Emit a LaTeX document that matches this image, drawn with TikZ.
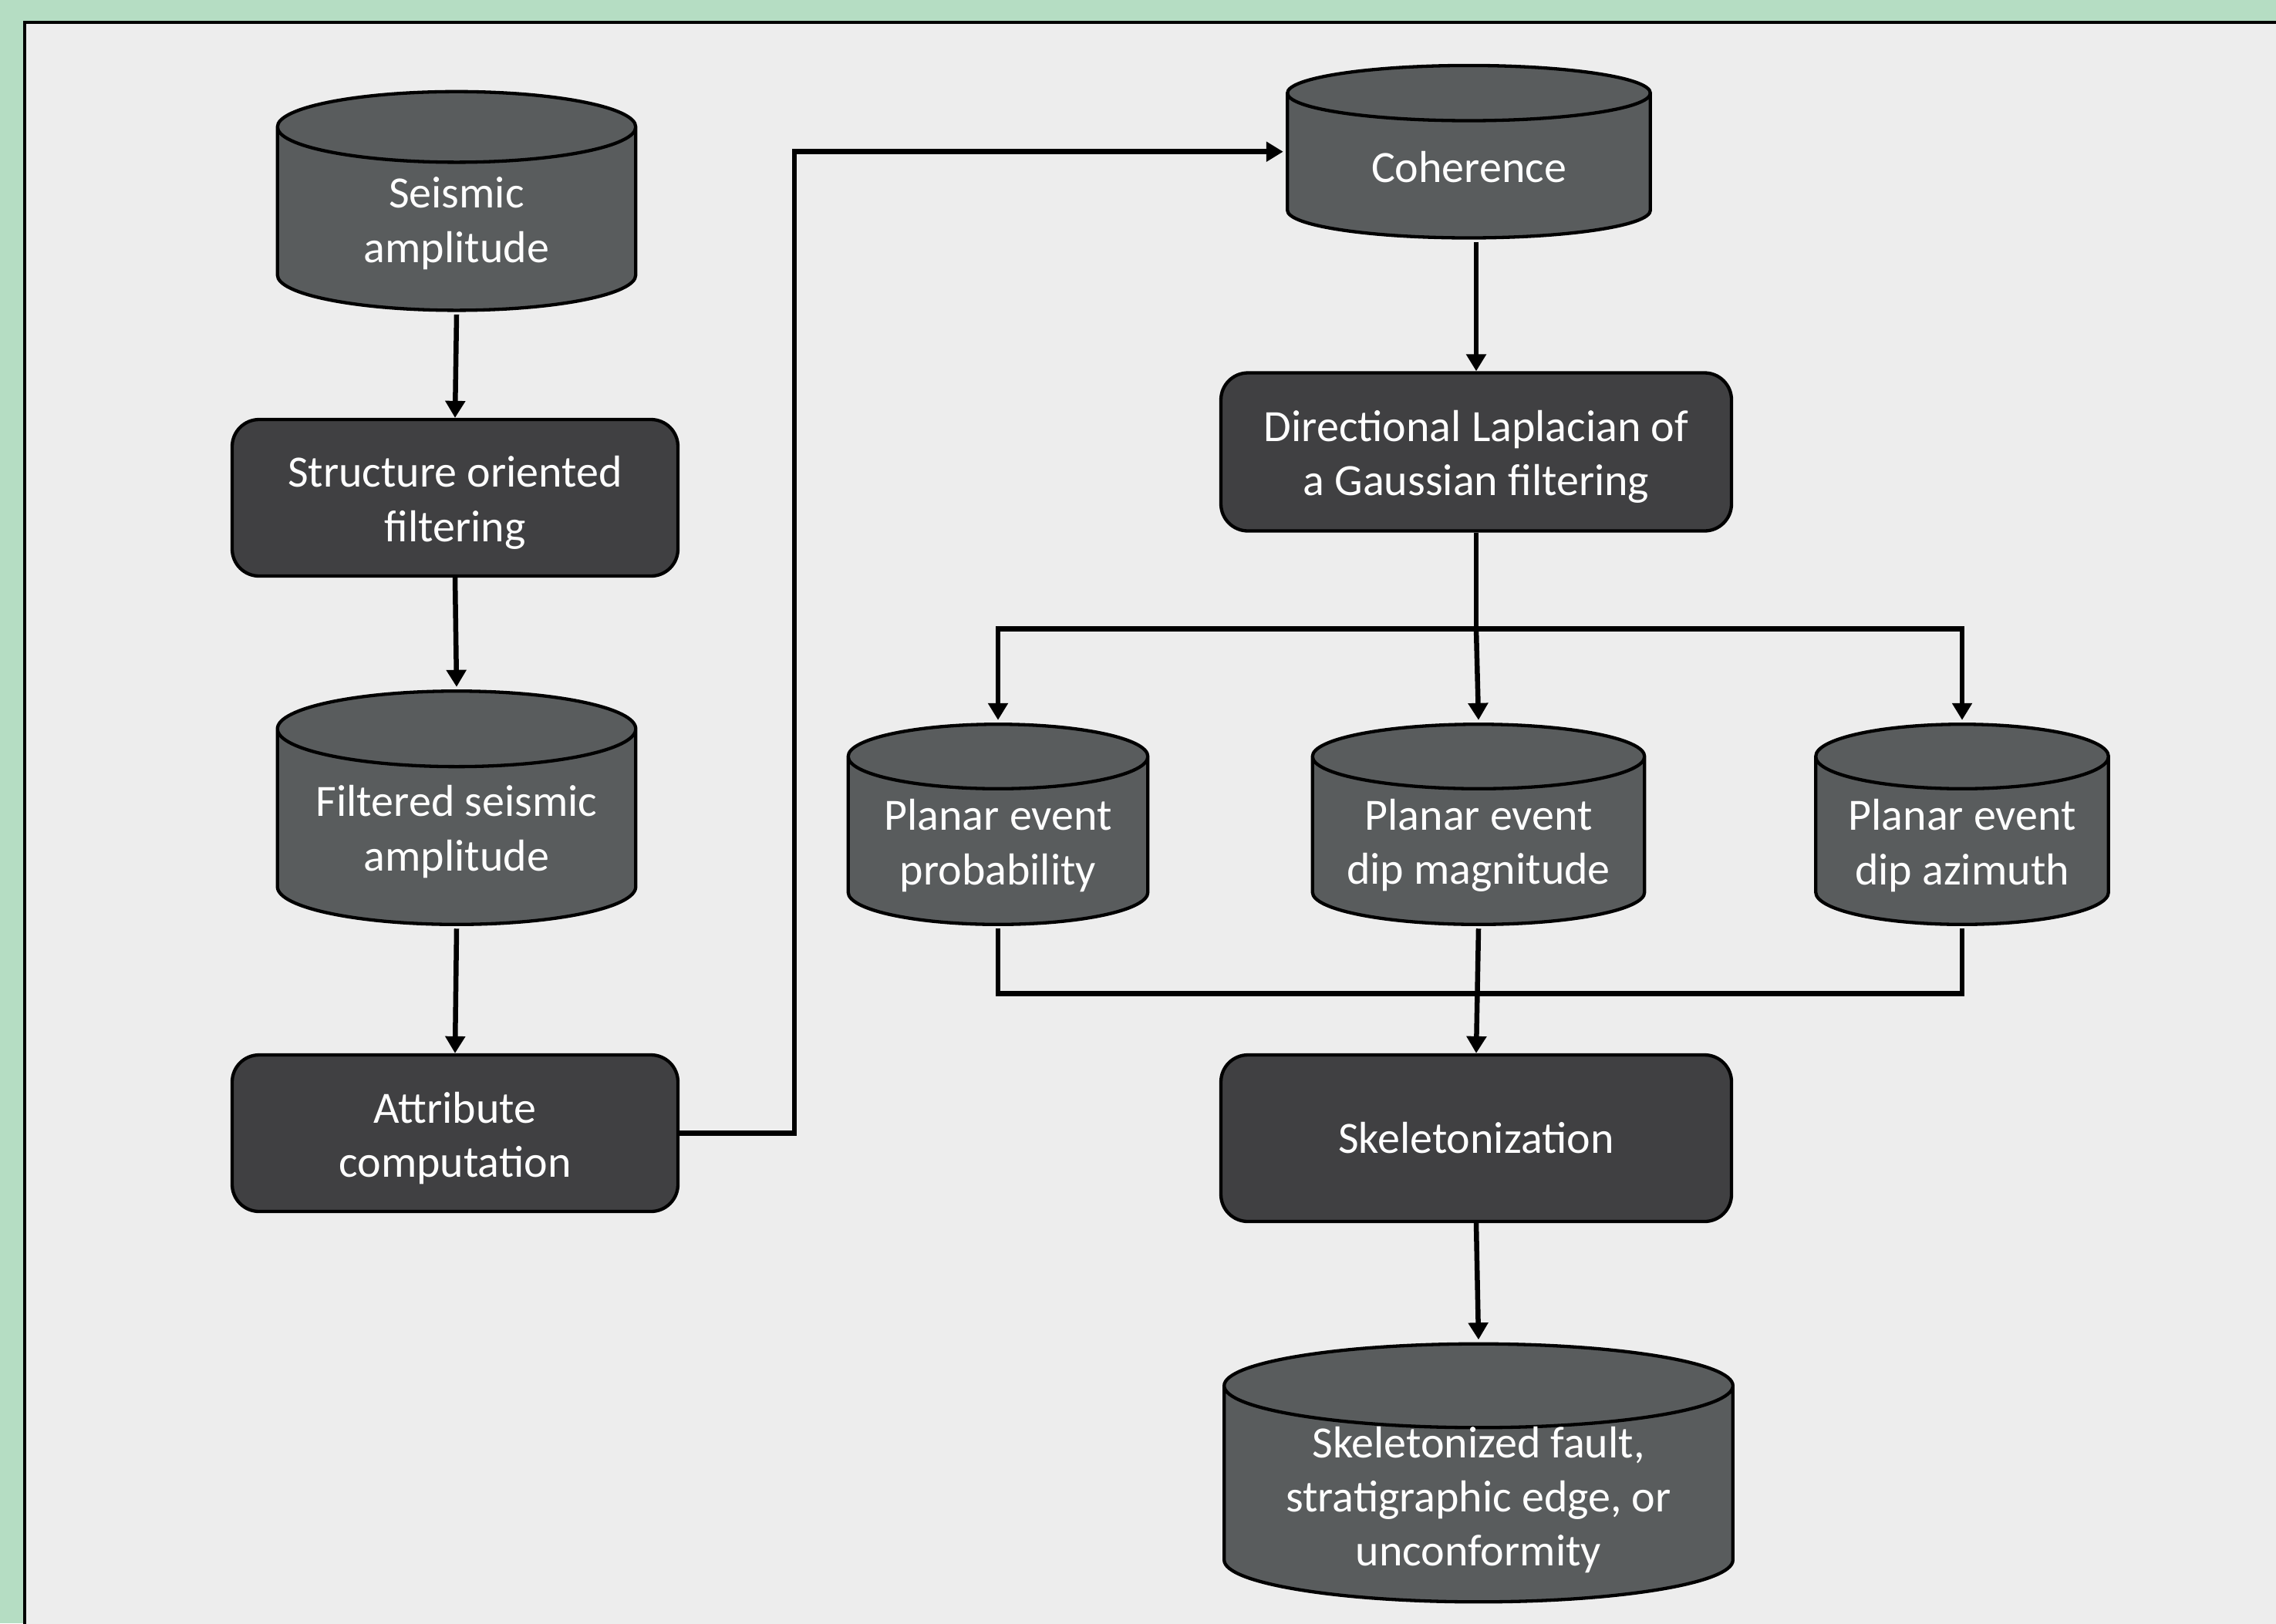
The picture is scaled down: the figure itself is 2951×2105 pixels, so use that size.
\documentclass[tikz,border=0pt]{standalone}
\usepackage{fontspec}
\setmainfont{Carlito}
\usetikzlibrary{calc, arrows.meta, positioning}

\definecolor{bggreen}{HTML}{B5DDC3}
\definecolor{panel}{HTML}{EDEDED}
\definecolor{dbgray}{HTML}{595C5D}
\definecolor{procgray}{HTML}{404042}

% taller first line, so two-line boxes sit a little lower
\newcommand\topline{\rule{0pt}{15pt}}

\tikzset{
  proc/.style={draw, rectangle, rounded corners=3.5mm, fill=procgray, text=white,
    align=center, line width=0.43mm},
  % data store: drawn as a cylinder inside its own box, ends are H/6 high
  db/.style={rectangle, inner sep=0pt, path picture={
    \path[draw, fill=dbgray, line width=0.43mm]
      let \p1=(path picture bounding box.south west),
          \p2=(path picture bounding box.north east),
          \n1={(\x2-\x1)/2-0.22mm}, \n2={(\y2-\y1)/6}, \n3={\n2-0.22mm}
      in (\x1+0.22mm,\y2-\n2) arc[start angle=180, end angle=0, x radius=\n1, y radius=\n3]
         -- (\x2-0.22mm,\y1+\n2) arc[start angle=0, end angle=-180, x radius=\n1, y radius=\n3]
         -- cycle
         (\x2-0.22mm,\y2-\n2) arc[start angle=0, end angle=-180, x radius=\n1, y radius=\n3];
  }},
  dbtext/.style={text=white, align=center},
  link/.style={-{Triangle[length=2.2mm, width=2.5mm]}},
}

\begin{document}
\begin{tikzpicture}[x=0.1mm, y=-0.1mm, line width=0.65mm, font=\fontsize{16.5pt}{20pt}\selectfont]
  \useasboundingbox (0,0) rectangle (2951,2105);
  \fill[bggreen] (0,0) rectangle (2951,2105);
  \begin{scope}
    \clip (0,0) rectangle (2951,2105);
    \draw[fill=panel, line width=0.4mm] (32,29) rectangle (3000,2200);
  \end{scope}

  % left column
  \node[db, minimum width=46.9mm, minimum height=28.8mm,
    label={[dbtext, yshift=-2.9mm]center:{Seismic\\amplitude}}] (seis) at (592,260.6) {};
  \node[proc, minimum width=57.8mm, minimum height=20.3mm] (sof) at (590,645.5) {\topline Structure oriented\\filtering};
  \node[db, minimum width=46.9mm, minimum height=30.7mm,
    label={[dbtext, yshift=-3.1mm]center:{Filtered seismic\\amplitude}}] (filt) at (592,1047.5) {};
  \node[proc, minimum width=57.8mm, minimum height=20.3mm] (attr) at (590,1469.5) {\topline Attribute\\computation};

  % right column
  \node[db, minimum width=47.5mm, minimum height=22.8mm,
    label={[dbtext, yshift=-2mm]center:{Coherence}}] (coh) at (1904.5,196.7) {};
  \node[proc, minimum width=66.2mm, minimum height=20.5mm] (dlog) at (1914,586) {\topline Directional Laplacian of\\a Gaussian filtering};
  \node[db, minimum width=39.3mm, minimum height=26.4mm,
    label={[dbtext, yshift=-2.75mm]center:{Planar event\\probability}}] (pprob) at (1294,1069) {};
  \node[db, minimum width=43.5mm, minimum height=26.4mm,
    label={[dbtext, yshift=-2.75mm]center:{Planar event\\dip magnitude}}] (pdip) at (1917,1069) {};
  \node[db, minimum width=38.4mm, minimum height=26.4mm,
    label={[dbtext, yshift=-2.75mm]center:{Planar event\\dip azimuth}}] (pazi) at (2544,1069) {};
  \node[proc, minimum width=66.2mm, minimum height=21.6mm] (skel) at (1914,1476) {Skeletonization};
  \node[db, minimum width=66.4mm, minimum height=33.9mm,
    label={[dbtext, yshift=-3.5mm]center:{Skeletonized fault,\\stratigraphic edge, or\\unconformity}}] (sfault) at (1917,1910) {};

  \draw[link] (seis.south) -- (sof.north);
  \draw[link] (sof.south) -- (filt.north);
  \draw[link] (filt.south) -- (attr.north);
  \draw[link] (attr.east) -- ++(149,0) |- (coh.west);
  \draw[link] (coh.south -| dlog.north) -- (dlog.north);

  \draw (dlog.south) -- ++(0,125) coordinate (split);
  \draw[link] (split) -| (pprob.north);
  \draw[link] (split) -| (pazi.north);
  \draw[link] (split) -- (pdip.north);

  \draw (pprob.south) -- ++(0,84) -| (pazi.south);
  \draw[link] (pdip.south) -- (skel.north);
  \draw[link] (skel.south) -- (sfault.north);
\end{tikzpicture}
\end{document}
